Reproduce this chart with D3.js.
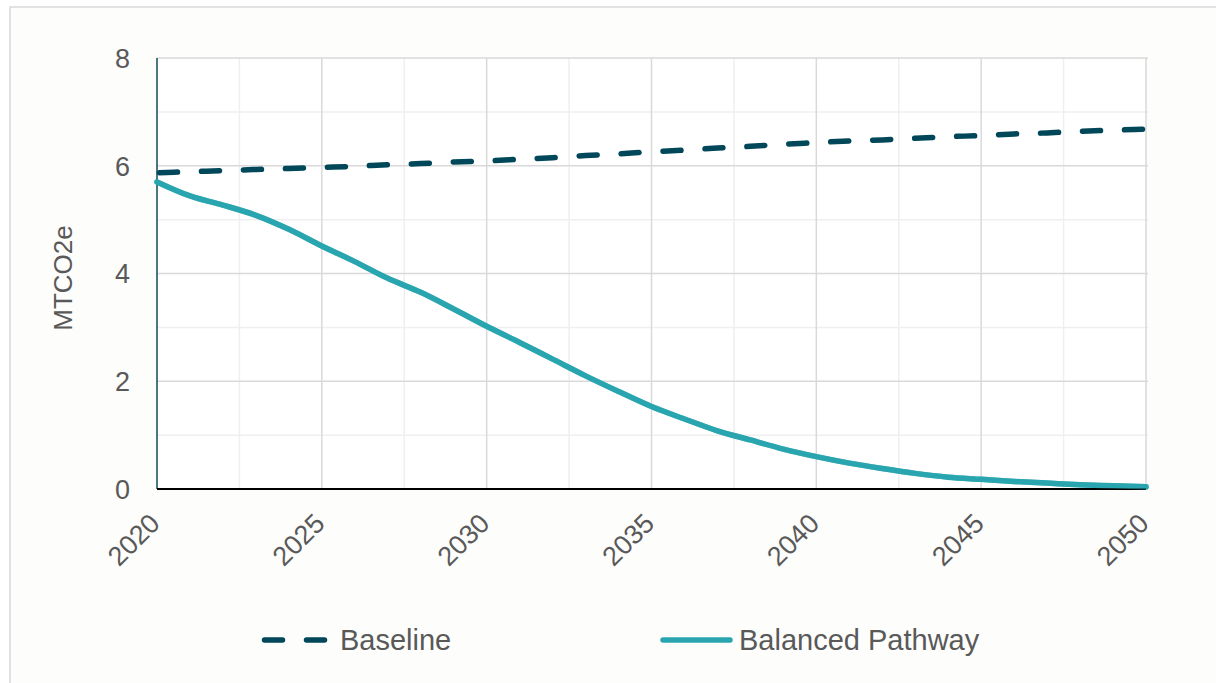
<!DOCTYPE html>
<html>
<head>
<meta charset="utf-8">
<script src="https://cdn.jsdelivr.net/npm/d3@7"></script>
<style>
  html, body { margin: 0; padding: 0; background: #ffffff; }
  svg { display: block; font-family: "Liberation Sans", Arial, sans-serif; }
</style>
</head>
<body>
<svg id="chart" width="1216" height="683"></svg>
<script>
const years = [2020,2021,2022,2023,2024,2025,2026,2027,2028,2029,2030,2031,2032,2033,2034,2035,2036,2037,2038,2039,2040,2041,2042,2043,2044,2045,2046,2047,2048,2049,2050];
const baseline = [5.87,5.89,5.91,5.93,5.95,5.97,5.99,6.02,6.04,6.07,6.09,6.12,6.15,6.19,6.22,6.26,6.29,6.33,6.36,6.40,6.43,6.46,6.48,6.51,6.54,6.56,6.59,6.61,6.64,6.66,6.68];
const balancedPathway = [5.70,5.44,5.27,5.08,4.82,4.51,4.22,3.91,3.65,3.34,3.02,2.72,2.41,2.10,1.81,1.53,1.30,1.08,0.91,0.74,0.60,0.48,0.38,0.29,0.22,0.18,0.14,0.11,0.08,0.06,0.04];
const xTickLabels = [2020,2025,2030,2035,2040,2045,2050];
const yTickLabels = [0,2,4,6,8];
const seriesNames = ["Baseline","Balanced Pathway"];
const yAxisTitle = "MTCO2e";

const svg = d3.select("#chart");
const W = 1216, H = 683;
const m = {left:157, right:1146, top:58, bottom:489};

// outer frame
svg.append("rect").attr("x",10).attr("y",7).attr("width",W).attr("height",H)
  .attr("fill","#fdfdfc").attr("stroke","#d9d9d9").attr("stroke-width",1.5);
svg.append("rect").attr("x",m.left).attr("y",m.top).attr("width",m.right-m.left).attr("height",m.bottom-m.top)
  .attr("fill","#ffffff");

const x = d3.scaleLinear().domain([2020,2050]).range([m.left,m.right]);
const y = d3.scaleLinear().domain([0,8]).range([m.bottom,m.top]);

const grid = svg.append("g");
grid.selectAll(".hmin").data(d3.range(1,8,2)).join("line")
  .attr("x1",m.left).attr("x2",m.right+2).attr("y1",d=>y(d)).attr("y2",d=>y(d))
  .attr("stroke","#efefef").attr("stroke-width",1.5);
grid.selectAll(".vmin").data(d3.range(2022.5,2050,5)).join("line")
  .attr("x1",d=>x(d)).attr("x2",d=>x(d)).attr("y1",m.top).attr("y2",m.bottom)
  .attr("stroke","#efefef").attr("stroke-width",1.5);
grid.selectAll(".hmaj").data(yTickLabels.filter(d=>d>0)).join("line")
  .attr("x1",m.left).attr("x2",m.right+2).attr("y1",d=>y(d)).attr("y2",d=>y(d))
  .attr("stroke","#d9d9d9").attr("stroke-width",1.5);
grid.selectAll(".vmaj").data(xTickLabels.filter(d=>d>2020)).join("line")
  .attr("x1",d=>x(d)).attr("x2",d=>x(d)).attr("y1",m.top).attr("y2",m.bottom)
  .attr("stroke","#d9d9d9").attr("stroke-width",1.5);

// y axis line
svg.append("line").attr("x1",m.left).attr("x2",m.left).attr("y1",m.top).attr("y2",m.bottom)
  .attr("stroke","#0f4a5b").attr("stroke-width",1.5);

// y tick labels
const yAxis = d3.axisLeft(y).tickValues(yTickLabels).tickSize(0).tickPadding(0).tickFormat(d3.format("d"));
const gy = svg.append("g").attr("transform",`translate(130,0)`).call(yAxis);
gy.select(".domain").remove();
gy.selectAll("text").attr("font-size",27).attr("fill","#595959")
  .attr("font-family","'Liberation Sans', Arial, sans-serif").attr("dy","0.35em");

// x tick labels
const xAxis = d3.axisBottom(x).tickValues(xTickLabels).tickSize(0).tickFormat(d3.format("d"));
const gx = svg.append("g").attr("transform",`translate(0,${m.bottom})`).call(xAxis);
gx.select(".domain").remove();
gx.selectAll(".tick text")
  .attr("font-size",27).attr("fill","#595959")
  .attr("font-family","'Liberation Sans', Arial, sans-serif")
  .attr("text-anchor","end").attr("y",0).attr("dy",0)
  .attr("transform","translate(4,36) rotate(-45)");

// y axis title
svg.append("text").attr("transform","translate(72,278) rotate(-90)")
  .attr("text-anchor","middle").attr("font-size",26).attr("fill","#595959").text(yAxisTitle);

// series
const colBase = "#00475a", colBal = "#29a5b0";
const line = d3.line().x((d,i)=>x(years[i])).y(d=>y(d)).curve(d3.curveMonotoneX);

svg.append("path").datum(balancedPathway).attr("d",line)
  .attr("fill","none").attr("stroke",colBal).attr("stroke-width",5.5)
  .attr("stroke-linecap","round").attr("stroke-linejoin","round");

svg.append("line").attr("x1",m.left).attr("x2",m.right).attr("y1",m.bottom).attr("y2",m.bottom)
  .attr("stroke","#000000").attr("stroke-width",2);

svg.append("path").datum(balancedPathway).attr("d",line)
  .attr("fill","none").attr("stroke",colBal).attr("stroke-width",5.5).attr("stroke-opacity",0.6)
  .attr("stroke-linecap","round").attr("stroke-linejoin","round");

svg.append("path").datum(baseline).attr("d",line)
  .attr("fill","none").attr("stroke",colBase).attr("stroke-width",5.5)
  .attr("stroke-dasharray","18,24").attr("stroke-dashoffset",-2.5)
  .attr("stroke-linecap","round");

// legend
const lg = svg.append("g");
lg.append("line").attr("x1",264.5).attr("x2",324.5).attr("y1",640).attr("y2",640)
  .attr("stroke",colBase).attr("stroke-width",5.5).attr("stroke-linecap","round")
  .attr("stroke-dasharray","18,24");
lg.append("text").attr("x",340).attr("y",650).attr("font-size",29).attr("fill","#595959").text(seriesNames[0]);
lg.append("line").attr("x1",663).attr("x2",730).attr("y1",640).attr("y2",640)
  .attr("stroke",colBal).attr("stroke-width",5.5).attr("stroke-linecap","round");
lg.append("text").attr("x",739).attr("y",650).attr("font-size",29).attr("fill","#595959").text(seriesNames[1]);
</script>
</body>
</html>
